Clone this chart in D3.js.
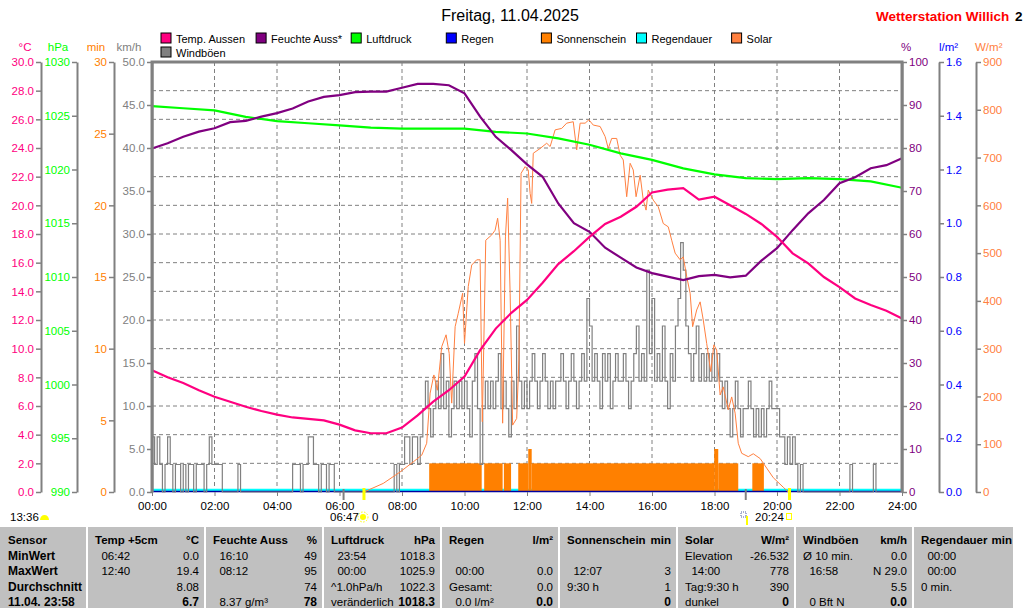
<!DOCTYPE html>
<html>
<head>
<meta charset="utf-8">
<script src="https://cdn.jsdelivr.net/npm/d3@7"></script>
<style>
  body { margin: 0; background: #fff; }
  svg text { font-family: "Liberation Sans", Arial, sans-serif; }
</style>
</head>
<body>
<div id="chart"></div>
<script>
// ---- data (Freitag, 11.04.2025) ----
const halfHours = [0,0.5,1,1.5,2,2.5,3,3.5,4,4.5,5,5.5,6,6.5,7,7.5,8,8.5,9,9.5,10,10.5,11,11.5,
  12,12.5,13,13.5,14,14.5,15,15.5,16,16.5,17,17.5,18,18.5,19,19.5,20,20.5,21,21.5,22,22.5,23,23.5,24];
const tempAussen = [8.5,8.0,7.6,7.1,6.65,6.3,5.95,5.65,5.4,5.2,5.1,5.0,4.7,4.3,4.1,4.1,4.5,5.35,6.3,7.1,
  8.05,9.9,11.4,12.5,13.4,14.6,15.9,16.8,17.8,18.7,19.2,19.9,20.9,21.1,21.2,20.4,20.6,20.0,19.4,18.7,
  17.8,16.65,15.95,15.0,14.3,13.5,13.05,12.65,12.1];
const feuchte = [79.9,81.1,82.6,83.8,84.6,86.0,86.3,87.3,88.1,89.2,90.8,91.9,92.3,93.0,93.1,93.1,94.0,94.9,
  94.9,94.6,92.7,87.3,82.6,79.5,76.2,73.3,67.1,62.5,60.5,56.8,54.5,52.2,50.9,50.1,49.3,50.2,50.5,49.9,
  50.3,53.8,56.7,60.9,64.8,67.9,71.8,73.2,75.3,76.0,77.6];

const fullHours = [0,1,2,3,4,5,6,7,8,9,10,11,12,13,14,15,16,17,18,19,20,21,22,23,24];
const luftdruck = [1025.9,1025.7,1025.5,1024.9,1024.5,1024.3,1024.1,1023.9,1023.8,1023.8,1023.8,1023.5,
  1023.35,1022.9,1022.3,1021.5,1020.9,1020.1,1019.55,1019.2,1019.1,1019.2,1019.1,1018.9,1018.3];

// gusts, one value per 5 minutes (km/h)
const gustStepMinutes = 5;
const windboeen = [
  6.4,3.2,6.4,3.2,0,3.2,6.4,3.2,0,3.2,3.2,0,            // 00
  3.2,0,3.2,3.2,0,3.2,3.2,3.2,0,3.2,6.4,3.2,            // 01
  3.2,3.2,3.2,0,0,0,0,0,0,3.2,0,0,                      // 02
  0,0,0,0,0,0,0,0,0,0,0,0,                              // 03
  0,0,0,0,0,0,3.2,3.2,3.2,0,3.2,3.2,                    // 04
  6.4,6.4,3.2,3.2,0,3.2,3.2,0,3.2,3.2,0,0,              // 05
  0,0,0,0,0,0,0,0,0,0,0,0,                              // 06
  0,0,0,0,0,0,0,0,0,3.2,0,3.2,                          // 07
  3.2,6.4,6.4,3.2,6.4,6.4,3.2,6.4,9.7,12.9,9.7,6.4,     // 08
  9.7,12.9,9.7,16.1,9.7,12.9,6.4,9.7,12.9,9.7,12.9,9.7, // 09
  12.9,9.7,6.4,12.9,16.1,9.7,3.2,9.7,12.9,9.7,12.9,9.7, // 10
  12.9,16.1,9.7,12.9,9.7,6.4,12.9,9.7,19.3,12.9,9.7,12.9, // 11
  9.7,12.9,16.1,12.9,9.7,12.9,16.1,12.9,9.7,12.9,9.7,12.9, // 12
  12.9,16.1,12.9,9.7,12.9,16.1,12.9,9.7,12.9,16.1,12.9,22.5, // 13
  19.3,12.9,16.1,12.9,9.7,16.1,12.9,16.1,9.7,12.9,16.1,12.9, // 14
  12.9,16.1,12.9,9.7,12.9,16.1,19.3,12.9,16.1,12.9,25.8,16.1, // 15
  22.5,12.9,16.1,12.9,19.3,12.9,9.7,16.1,12.9,19.3,22.5,29.0, // 16
  25.8,19.3,16.1,12.9,16.1,19.3,12.9,16.1,12.9,16.1,12.9,16.1, // 17
  12.9,16.1,12.9,9.7,12.9,9.7,6.4,9.7,12.9,9.7,6.4,9.7,  // 18
  9.7,12.9,9.7,6.4,9.7,6.4,9.7,6.4,9.7,12.9,9.7,9.7,     // 19
  9.7,6.4,6.4,3.2,6.4,3.2,6.4,3.2,0,3.2,0,0,             // 20
  0,0,0,0,0,0,0,0,0,0,0,0,                               // 21
  0,0,0,0,3.2,0,0,0,0,0,0,0,                             // 22
  0,3.2,0,0,0,0,0,0,0,0,0,0,                             // 23
  0
];

const solarTimes = [6.78,7.40,7.94,8.36,8.63,8.79,8.90,9.02,9.13,9.27,9.41,9.51,9.59,9.70,9.80,9.94,10.00,
  10.12,10.23,10.39,10.50,10.57,10.68,10.87,10.98,11.06,11.14,11.22,11.31,11.38,11.46,11.54,11.67,11.74,
  11.81,11.94,12.04,12.10,12.15,12.20,12.42,12.63,12.74,12.90,13.11,13.27,13.48,13.59,13.70,13.86,13.98,
  14.12,14.34,14.50,14.60,14.71,14.87,14.98,15.08,15.19,15.30,15.40,15.49,15.62,15.72,15.81,15.88,16.04,
  16.20,16.36,16.52,16.63,16.74,16.90,17.00,17.11,17.22,17.30,17.43,17.54,17.64,17.75,17.88,17.98,18.07,
  18.18,18.28,18.44,18.55,18.66,18.76,18.87,19.08,19.24,19.46,19.67,19.88,20.20,20.36];
const solarValues = [0,18,42,63,77,102,207,245,213,304,329,290,186,346,374,416,311,
  430,475,486,486,147,527,538,548,573,527,144,534,615,416,140,154,276,
  667,681,674,625,604,709,719,730,723,758,761,772,775,716,772,772,779,
  768,765,744,719,740,740,705,695,618,688,674,618,663,611,590,632,611,
  597,562,555,527,500,486,492,451,416,346,381,398,360,311,252,308,297,
  203,220,172,199,165,102,81,74,80,70,50,30,10,0];

// sunshine minutes: [from hour, to hour, minutes]
const sonnenschein = [
  [8.87,10.55,2],[10.63,11.22,2],[11.26,11.49,2],[11.72,12.04,2],[12.04,12.15,3],
  [12.15,17.99,2],[17.99,18.12,3],[18.12,18.76,2],[19.21,19.58,2]
];

const regenTimes = [0,24];
const regen = [0,0];
const regendauer = [0,0];

const sunEvents = [6.783, 20.4];     // 06:47 / 20:24
const grayEvents = [6.13, 19.0];

// axes
const hourTicks = [0,2,4,6,8,10,12,14,16,18,20,22,24];
const hourLabels = ["00:00","02:00","04:00","06:00","08:00","10:00","12:00","14:00","16:00","18:00","20:00","22:00","24:00"];
const tempTicks = [0,2,4,6,8,10,12,14,16,18,20,22,24,26,28,30];
const presTicks = [990,995,1000,1005,1010,1015,1020,1025,1030];
const minTicks = [0,5,10,15,20,25,30];
const windTicks = [0,5,10,15,20,25,30,35,40,45,50];
const humTicks = [0,10,20,30,40,50,60,70,80,90,100];
const rainTicks = [0,0.2,0.4,0.6,0.8,1.0,1.2,1.4,1.6];
const solarTicks = [0,100,200,300,400,500,600,700,800,900];

const legendNames = ["Temp. Aussen","Feuchte Auss*","Luftdruck","Regen","Sonnenschein","Regendauer","Solar","Windböen"];
const legendColors = ["#ff0080","#800080","#00ff00","#0000ff","#ff8000","#00ffff","#ff8040","#808080"];

// table below the chart
const tableHeads = [["Sensor",""],["Temp +5cm","°C"],["Feuchte Auss","%"],["Luftdruck","hPa"],["Regen","l/m²"],
  ["Sonnenschein","min"],["Solar","W/m²"],["Windböen","km/h"],["Regendauer","min"]];
const rowLabels = ["MinWert","MaxWert","Durchschnitt","11.04. 23:58"];
const tableCells = [
  [["  06:42","0.0"],["  12:40","19.4"],["","8.08"],["","6.7"]],
  [["  16:10","49"],["  08:12","95"],["","74"],["  8.37 g/m³","78"]],
  [["  23:54","1018.3"],["  00:00","1025.9"],["^1.0hPa/h","1022.3"],["veränderlich","1018.3"]],
  [["",""],["  00:00","0.0"],["Gesamt:","0.0"],["  0.0 l/m²","0.0"]],
  [["",""],["  12:07","3"],["9:30 h","1"],["","0"]],
  [["Elevation","-26.532"],["  14:00","778"],["Tag:9:30 h","390"],["dunkel","0"]],
  [["Ø 10 min.","0.0"],["  16:58","N 29.0"],["","5.5"],["  0 Bft N","0.0"]],
  [["  00:00",""],["  00:00",""],["0 min.",""],["",""]]
];

// ---- drawing ----
const width = 1024, height = 608;
const plotL = 152, plotR = 902, plotT = 62, plotB = 492;

const svg = d3.select("#chart").append("svg")
  .attr("width", width).attr("height", height);

const x = d3.scaleLinear().domain([0, 24]).range([plotL, plotR]);
const yTemp = d3.scaleLinear().domain([0, 30]).range([plotB, plotT]);
const yPres = d3.scaleLinear().domain([990, 1030]).range([plotB, plotT]);
const yMin = d3.scaleLinear().domain([0, 30]).range([plotB, plotT]);
const yWind = d3.scaleLinear().domain([0, 50]).range([plotB, plotT]);
const yHum = d3.scaleLinear().domain([0, 100]).range([plotB, plotT]);
const yRain = d3.scaleLinear().domain([0, 1.6]).range([plotB, plotT]);
const ySolar = d3.scaleLinear().domain([0, 900]).range([plotB, plotT]);

// title
svg.append("text").attr("x", 510).attr("y", 20.5).attr("text-anchor", "middle")
  .attr("font-size", 16).text("Freitag, 11.04.2025");
svg.append("text").attr("x", 876).attr("y", 21).attr("font-size", 13.5).attr("font-weight", "bold")
  .attr("fill", "#ff0000").text("Wetterstation Willich");
svg.append("text").attr("x", 1015).attr("y", 21).attr("font-size", 13.5).attr("font-weight", "bold")
  .text("2");

// legend
const legend = svg.append("g").selectAll("g").data(legendNames).join("g")
  .attr("transform", (d, i) => i < 7 ? `translate(${161 + i * 95.1},33)` : "translate(161,47)");
legend.append("rect").attr("width", 10).attr("height", 10)
  .attr("fill", (d, i) => legendColors[i]).attr("stroke", "#000");
legend.append("text").attr("x", 15).attr("y", 9.5).attr("font-size", 11).text(d => d);

// grid
const grid = svg.append("g").attr("stroke", "#808080").attr("stroke-dasharray", "4,3");
grid.selectAll("line.h").data(tempTicks.slice(1, -1)).join("line")
  .attr("x1", plotL).attr("x2", plotR).attr("y1", d => yTemp(d)).attr("y2", d => yTemp(d));
grid.selectAll("line.v").data(hourTicks.slice(1, -1)).join("line")
  .attr("y1", plotT).attr("y2", plotB).attr("x1", d => x(d)).attr("x2", d => x(d));

// regendauer (cyan) sits just above the base line
svg.append("path").datum(regendauer)
  .attr("fill", "none").attr("stroke", "#00ffff").attr("stroke-width", 2.5)
  .attr("transform", "translate(0,-2)")
  .attr("d", d3.line().x((d, i) => x(regenTimes[i])).y(d => yMin(d)));

// sunshine bars
svg.append("g").attr("fill", "#ff8000").selectAll("rect").data(sonnenschein).join("rect")
  .attr("x", d => x(d[0])).attr("width", d => x(d[1]) - x(d[0]))
  .attr("y", d => yMin(d[2])).attr("height", d => yMin(0) - yMin(d[2]));

// rain
svg.append("path").datum(regen)
  .attr("fill", "none").attr("stroke", "#0000a0").attr("stroke-width", 1.5)
  .attr("d", d3.line().x((d, i) => x(regenTimes[i])).y(d => yRain(d) - 0.5));

// gusts
svg.append("path").datum(windboeen)
  .attr("fill", "none").attr("stroke", "#808080").attr("stroke-width", 1.2)
  .attr("d", d3.line().curve(d3.curveStepAfter)
    .x((d, i) => x(i * gustStepMinutes / 60)).y(d => yWind(d)));

// solar
svg.append("path").datum(solarValues)
  .attr("fill", "none").attr("stroke", "#ff8040").attr("stroke-width", 1)
  .attr("d", d3.line().x((d, i) => x(solarTimes[i])).y(d => ySolar(d)));

// pressure, humidity, temperature
svg.append("path").datum(luftdruck)
  .attr("fill", "none").attr("stroke", "#00ff00").attr("stroke-width", 2.2)
  .attr("d", d3.line().x((d, i) => x(fullHours[i])).y(d => yPres(d)));
svg.append("path").datum(feuchte)
  .attr("fill", "none").attr("stroke", "#800080").attr("stroke-width", 2.2)
  .attr("d", d3.line().x((d, i) => x(halfHours[i])).y(d => yHum(d)));
svg.append("path").datum(tempAussen)
  .attr("fill", "none").attr("stroke", "#ff0080").attr("stroke-width", 2.2)
  .attr("d", d3.line().x((d, i) => x(halfHours[i])).y(d => yTemp(d)));

// frame
svg.append("path").attr("fill", "none").attr("stroke", "#808080").attr("stroke-width", 3)
  .attr("d", `M${plotL},${plotB}V${plotT}H${plotR}V${plotB}`);

// sun and twilight markers under the axis
svg.append("g").selectAll("line").data(grayEvents).join("line")
  .attr("x1", d => x(d)).attr("x2", d => x(d)).attr("y1", plotB - 3).attr("y2", plotB + 8)
  .attr("stroke", "#808080").attr("stroke-width", 2);
svg.append("g").selectAll("line").data(sunEvents).join("line")
  .attr("x1", d => x(d)).attr("x2", d => x(d)).attr("y1", plotB - 4).attr("y2", plotB + 8)
  .attr("stroke", "#ffff00").attr("stroke-width", 3);

// axes
function styleAxis(g, color) {
  g.attr("font-family", null).attr("font-size", 11.5);
  g.select(".domain").attr("stroke", "#808080").attr("stroke-width", 2);
  g.selectAll(".tick line").attr("stroke", "#808080").attr("stroke-width", 1.5);
  g.selectAll(".tick text").attr("fill", color);
}
const axes = [
  [41, d3.axisLeft(yTemp).tickValues(tempTicks).tickFormat(d3.format(".1f")), "#ff0080"],
  [77, d3.axisLeft(yPres).tickValues(presTicks).tickFormat(d3.format("d")), "#00ff00"],
  [114, d3.axisLeft(yMin).tickValues(minTicks).tickFormat(d3.format("d")), "#ff8000"],
  [152, d3.axisLeft(yWind).tickValues(windTicks).tickFormat(d3.format(".1f")), "#808080"],
  [902, d3.axisRight(yHum).tickValues(humTicks).tickFormat(d3.format("d")), "#800080"],
  [939, d3.axisRight(yRain).tickValues(rainTicks).tickFormat(d3.format(".1f")), "#0000ff"],
  [976, d3.axisRight(ySolar).tickValues(solarTicks).tickFormat(d3.format("d")), "#ff8040"]
];
axes.forEach(([pos, axis, color]) => {
  svg.append("g").attr("transform", `translate(${pos},0)`)
    .call(axis.tickSize(5).tickSizeOuter(0).tickPadding(2))
    .call(g => styleAxis(g, color));
});

const xAxis = svg.append("g").attr("transform", `translate(0,${plotB})`)
  .call(d3.axisBottom(x).tickValues(hourTicks).tickFormat((d, i) => hourLabels[i])
    .tickSize(4).tickSizeOuter(0).tickPadding(6));
xAxis.attr("font-family", null).attr("font-size", 11.5);
xAxis.select(".domain").remove();
xAxis.selectAll(".tick line").attr("stroke", "#808080");
xAxis.selectAll(".tick text").attr("fill", "#000");

// unit headers
const heads = [["°C", 25, "#ff0080", "middle"], ["hPa", 58, "#00ff00", "middle"], ["min", 96, "#ff8000", "middle"],
  ["km/h", 129, "#808080", "middle"], ["%", 906, "#800080", "middle"], ["l/m²", 939, "#0000ff", "start"],
  ["W/m²", 975, "#ff8040", "start"]];
svg.append("g").selectAll("text").data(heads).join("text")
  .attr("x", d => d[1]).attr("y", 51).attr("text-anchor", d => d[3])
  .attr("fill", d => d[2]).attr("font-size", 11.5).text(d => d[0]);

// moon / sun notes under the time axis
svg.append("text").attr("x", 10).attr("y", 521).attr("font-size", 11.5).text("13:36");
svg.append("path").attr("d", "M40,520 A4.5,5 0 0 1 49,520 Z").attr("fill", "#ffff00");
svg.append("text").attr("x", 330).attr("y", 521).attr("font-size", 11.5).text("06:47");
const sun = svg.append("g").attr("transform", "translate(363,517)");
sun.append("circle").attr("r", 3).attr("fill", "#ffff00");
sun.append("circle").attr("r", 5).attr("fill", "none").attr("stroke", "#ffff00").attr("stroke-dasharray", "1.5,1.5");
svg.append("text").attr("x", 372).attr("y", 521).attr("font-size", 11.5).text("0");
svg.append("rect").attr("x", 741).attr("y", 512).attr("width", 5).attr("height", 5)
  .attr("fill", "none").attr("stroke", "#5060a0").attr("stroke-dasharray", "1,1");
svg.append("rect").attr("x", 746).attr("y", 516).attr("width", 2).attr("height", 9).attr("fill", "#ffff00");
svg.append("text").attr("x", 755).attr("y", 521).attr("font-size", 11.5).text("20:24");
svg.append("rect").attr("x", 786.5).attr("y", 513.5).attr("width", 5).attr("height", 6)
  .attr("fill", "none").attr("stroke", "#ffff00");

// table
const tableTop = 527, tableRight = 1013;
const colLeft = [0, 87, 205, 323, 441, 559, 677, 795, 913];
const colRight = [0, 199, 317, 435, 553, 671, 789, 907, 1012];
svg.append("clipPath").attr("id", "tclip").append("rect")
  .attr("x", 0).attr("y", tableTop).attr("width", tableRight).attr("height", height - tableTop);
const table = svg.append("g").attr("clip-path", "url(#tclip)");
table.append("rect").attr("x", 0).attr("y", tableTop).attr("width", tableRight)
  .attr("height", height - tableTop).attr("fill", "#c0c0c0");
table.selectAll("line").data(colLeft.slice(1)).join("line")
  .attr("x1", d => d).attr("x2", d => d).attr("y1", tableTop).attr("y2", height)
  .attr("stroke", "#ffffff").attr("stroke-width", 2);

const rowY = [544, 559.5, 575, 590.5, 605.5];
tableHeads.forEach((h, c) => {
  table.append("text").attr("x", colLeft[c] + 8).attr("y", rowY[0]).attr("font-size", 11.5)
    .attr("font-weight", "bold").text(h[0]);
  table.append("text").attr("x", colRight[c]).attr("y", rowY[0]).attr("font-size", 11.5)
    .attr("font-weight", "bold").attr("text-anchor", "end").text(h[1]);
});
rowLabels.forEach((r, i) => {
  table.append("text").attr("x", 8).attr("y", rowY[i + 1]).attr("font-size", 12)
    .attr("font-weight", "bold").text(r);
});
tableCells.forEach((col, c) => {
  col.forEach((cell, r) => {
    const last = r === 3;
    table.append("text").attr("x", colLeft[c + 1] + 8).attr("y", rowY[r + 1])
      .attr("font-size", 11.5).style("white-space", "pre").text(cell[0]);
    table.append("text").attr("x", colRight[c + 1]).attr("y", rowY[r + 1])
      .attr("font-size", last ? 12 : 11.5).attr("font-weight", last ? "bold" : null)
      .attr("text-anchor", "end").text(cell[1]);
  });
});
</script>
</body>
</html>
